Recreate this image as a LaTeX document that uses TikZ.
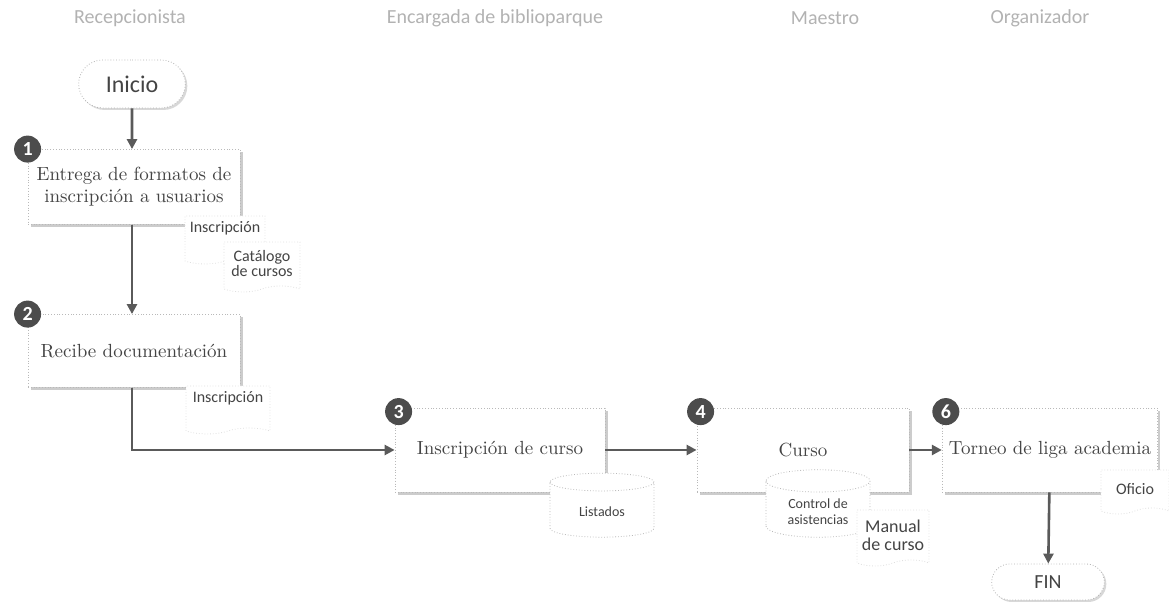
\documentclass[tikz,border=0pt]{standalone}
\usepackage{fontspec}
\newfontfamily\carlito{Carlito}
\usetikzlibrary{arrows.meta,shapes.geometric,shapes.symbols,shapes.misc,shadows}
\definecolor{tinta}{HTML}{444444}
\definecolor{linea}{HTML}{5A5A5A}
\tikzset{
  paso/.style={draw=gray!55, densely dotted, fill=white, text=tinta,
    drop shadow={shadow xshift=1.3pt, shadow yshift=-1.3pt, fill=black!40},
    minimum width=106pt, minimum height=40pt, align=center, font=\fontsize{9.5}{11}\selectfont},
  insignia/.style={circle, fill=black!70, text=white, font=\carlito\bfseries,
    inner sep=0pt, minimum size=13.5pt},
  terminal/.style={rounded rectangle, draw=gray!60, densely dotted, fill=white,
    drop shadow={shadow xshift=1pt, shadow yshift=-1pt, fill=black!30},
    text=tinta, font=\carlito},
  doc/.style={tape, tape bend top=none, tape bend height=3pt, draw=gray!25, densely dotted,
    fill=white, text=tinta, font=\carlito\footnotesize, align=center, inner sep=2pt},
  bd/.style={cylinder, shape border rotate=90, aspect=0.3, draw=gray!55, densely dotted,
    fill=white, text=tinta, font=\carlito\scriptsize, align=center,
    minimum width=52pt, minimum height=30pt},
  carril/.style={text=gray!60, font=\carlito},
  flecha/.style={draw=linea, line width=1.3pt, -{Triangle[length=5pt,width=5pt]}}
}
\begin{document}
\begin{tikzpicture}[x=0.5pt,y=-0.5pt]
\useasboundingbox (0,0) rectangle (1169,603);

% carriles
\node[carril] (c1) at (130,18) {Recepcionista};
\node[carril] (c2) at (495,18) {Encargada de biblioparque};
\node[carril] (c3) at (825,18) {Maestro};
\node[carril] (c4) at (1040,18) {Organizador};

% inicio
\node[terminal, minimum width=60pt, minimum height=24pt, font=\carlito\large] (inicio) at (132,84) {Inicio};

% pasos
\node[paso, minimum height=37.5pt] (p1) at (134,187) {Entrega de formatos de\\inscripción a usuarios};
\node[insignia] (n1) at (p1.north west) {1};
\node[doc, minimum width=40pt, minimum height=24pt, text depth=10pt] (d1) at (225,237) {Inscripción};
\node[doc, minimum width=38pt, minimum height=25pt] (d2) at (262,264) {Catálogo\\[-2pt]de cursos};

\node[paso, minimum height=36.5pt] (p2) at (134,351) {Recibe documentación};
\node[insignia] (n2) at (p2.north west) {2};
\node[doc, minimum width=42pt, minimum height=24pt, text depth=10pt] (d3) at (228,407) {Inscripción};

\node[paso, minimum width=105pt, minimum height=42pt] (p3) at (500,450) {Inscripción de curso};
\node[insignia] (n3) at ([xshift=2pt,yshift=-2pt]p3.north west) {3};
\node[bd, minimum width=52pt, minimum height=32pt, text depth=-2pt] (b1) at (602,512) {Listados};

\node[paso, minimum width=106pt, minimum height=42pt] (p4) at (803,450) {Curso};
\node[insignia] (n4) at ([xshift=2pt,yshift=-2pt]p4.north west) {4};
\node[bd, minimum width=52pt, minimum height=32pt] (b2) at (818,512) {Control de\\asistencias};
\node[doc, minimum width=36pt, minimum height=28pt, font=\carlito\small] (d4) at (893,535) {Manual\\[-2pt]de curso};

\node[paso, minimum width=107pt, minimum height=42pt] (p6) at (1050,450) {Torneo de liga academia};
\node[insignia] (n6) at ([xshift=2pt,yshift=-2pt]p6.north west) {6};
\node[doc, minimum width=34pt, minimum height=22pt] (d5) at (1135,489) {Oficio};

% fin
\node[terminal, minimum width=63pt, minimum height=18pt, font=\carlito] (fin) at (1048,582) {FIN};

% conectores
\draw[flecha] (inicio) -- (p1.north -| inicio);
\draw[flecha] (p1.south -| inicio) -- (p2.north -| inicio);
\draw[flecha] (p2.south -| inicio) |- (p3.west);
\draw[flecha] (p3) -- (p4);
\draw[flecha] (p4) -- (p6);
\draw[flecha] (p6) -- (fin);
\end{tikzpicture}
\end{document}
